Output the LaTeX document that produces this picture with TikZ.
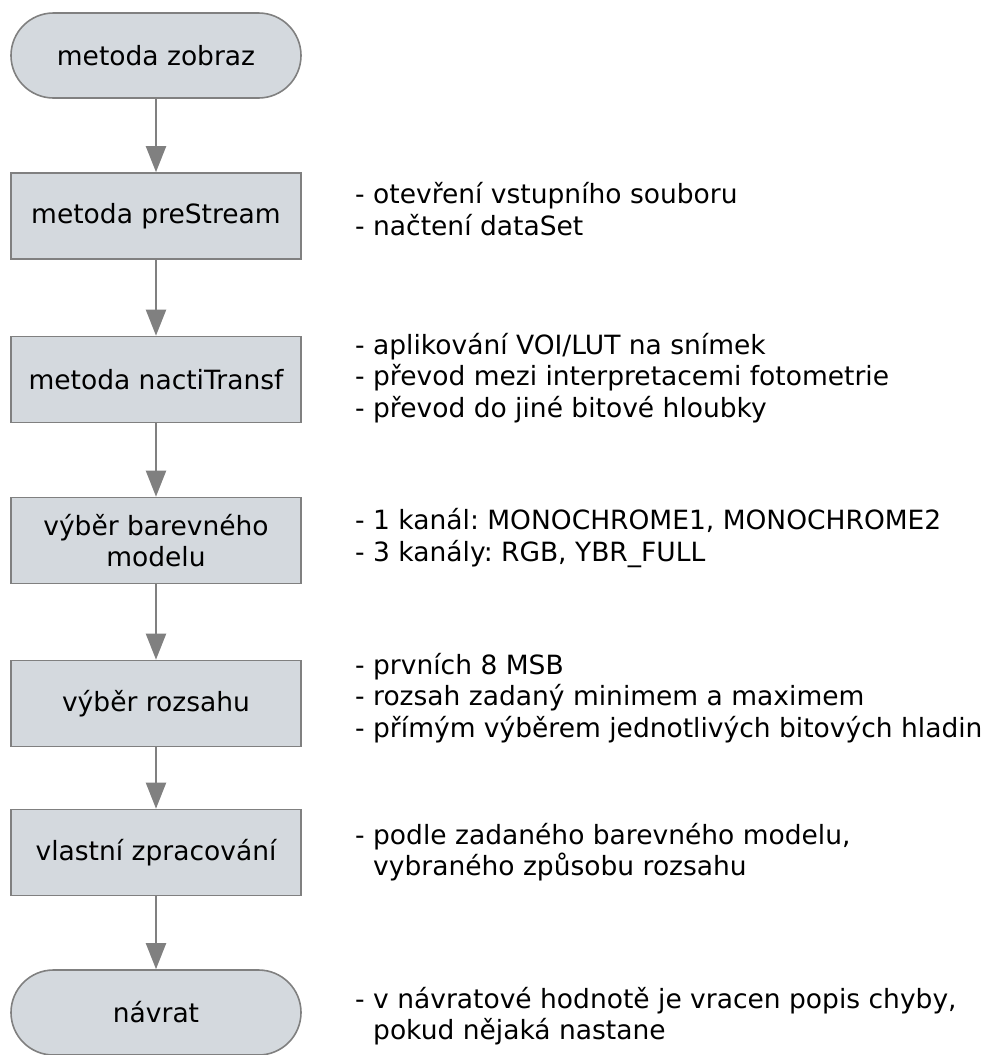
\documentclass[tikz,border=0pt]{standalone}
\usepackage{fontspec}
\setmainfont{DejaVu Sans}
\usetikzlibrary{arrows.meta}
\definecolor{boxfill}{RGB}{212,217,222}
\definecolor{boxline}{RGB}{128,128,128}
\frenchspacing
\begin{document}
\begin{tikzpicture}[x=1pt,y=-1pt,
  every node/.style={font=\fontsize{26.5}{31.5}\selectfont\frenchspacing},
  procbox/.style={draw=boxline, line width=1.6pt, fill=boxfill, rectangle,
    minimum width=290pt, minimum height=86pt, align=center, inner sep=0pt},
  termbox/.style={procbox, rounded corners=42.5pt, minimum height=85pt},
  note/.style={anchor=west, align=left, inner sep=0pt},
  flow/.style={draw=boxline, line width=2pt,
    -{Triangle[width=20pt,length=26pt,fill=boxline]}}]
\useasboundingbox (0,0) rectangle (986,1055);
\node[termbox] (t1) at (156,55.5) {metoda zobraz};
\node[procbox] (b2) at (156,216) {metoda preStream};
\node[procbox] (b3) at (156,379.5) {metoda nactiTransf};
\node[procbox] (b4) at (156,540.5) {výběr barevného\\modelu};
\node[procbox] (b5) at (156,703.5) {výběr rozsahu};
\node[procbox] (b6) at (156,852.5) {vlastní zpracování};
\node[termbox] (t7) at (156,1012.5) {návrat};
\draw[flow] (t1) -- (b2);
\draw[flow] (b2) -- (b3);
\draw[flow] (b3) -- (b4);
\draw[flow] (b4) -- (b5);
\draw[flow] (b5) -- (b6);
\draw[flow] (b6) -- (t7);
\node[note] (n2) at (355,209) {- otevření vstupního souboru\\- načtení dataSet};
\node[note] (n3) at (355,378) {- aplikování VOI/LUT na snímek\\- převod mezi interpretacemi fotometrie\\- převod do jiné bitové hloubky};
\node[note] (n4) at (355,538) {- 1 kanál: MONOCHROME1, MONOCHROME2\\- 3 kanály: RGB, YBR\_FULL};
\node[note] (n5) at (355,698) {- prvních 8 MSB\\- rozsah zadaný minimem a maximem\\- přímým výběrem jednotlivých bitových hladin};
\node[note] (n6) at (355,852) {- podle zadaného barevného modelu,\\\phantom{- }vybraného způsobu rozsahu};
\node[note] (n7) at (355,1016) {- v návratové hodnotě je vracen popis chyby,\\\phantom{- }pokud nějaká nastane};
\end{tikzpicture}
\end{document}
